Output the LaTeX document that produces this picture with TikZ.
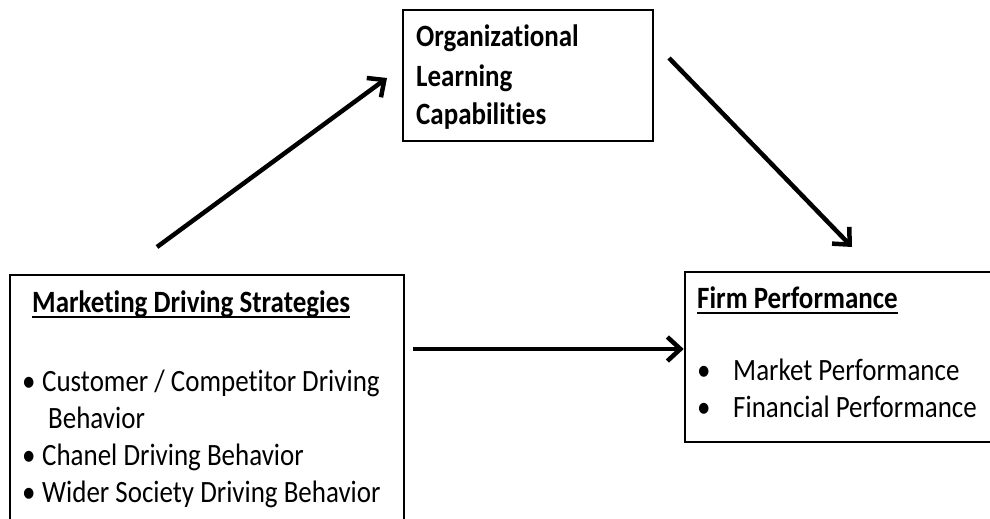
\documentclass[tikz,border=0pt]{standalone}
\usepackage{fontspec}
\setmainfont{Carlito}[Ligatures=NoCommon, FakeStretch=0.87]
\usetikzlibrary{arrows.meta}
\begin{document}
\begin{tikzpicture}[x=1pt,y=-1pt,
  box/.style={draw, line width=2.6pt, inner sep=0pt},
  txt/.style={anchor=base west, inner sep=0pt, font=\fontsize{31}{37}\selectfont},
  btxt/.style={txt, font=\fontsize{31}{37}\selectfont\bfseries},
  arr/.style={line width=4.5pt, -{Straight Barb[length=13pt,width=24pt]}},
  uline/.style={line width=1.8pt}]
\useasboundingbox (0,0) rectangle (990,519);
% boxes
\node[box, minimum width=250pt, minimum height=131pt] (org) at (528,75.5) {};
\node[box, minimum width=394pt, minimum height=270pt] (mkt) at (207,410) {};
\node[box, minimum width=330pt, minimum height=170pt] (firm) at (850,357) {};
% organizational text
\node[btxt] (o1) at (416,47) {Organizational};
\node[btxt] (o2) at (416,86) {Learning};
\node[btxt] (o3) at (416,124) {Capabilities};
% marketing text
\node[btxt] (mt) at (32,312) {Marketing Driving Strategies};
\draw[uline] ([yshift=-5pt]mt.base west) -- ([yshift=-5pt]mt.base east);
\node[txt] (mb1) at (22,391) {•};
\node[txt] (m1) at (42,391) {Customer / Competitor Driving};
\node[txt] (m1b) at (48,428) {Behavior};
\node[txt] (mb2) at (22,465) {•};
\node[txt] (m2) at (42,465) {Chanel Driving Behavior};
\node[txt] (mb3) at (22,502) {•};
\node[txt] (m3) at (42,502) {Wider Society Driving Behavior};
% firm text
\node[btxt] (ft) at (697,308) {Firm Performance};
\draw[uline] ([yshift=-5pt]ft.base west) -- ([yshift=-5pt]ft.base east);
\node[txt] (fb1) at (697,380) {•};
\node[txt] (f1) at (733,380) {Market Performance};
\node[txt] (fb2) at (697,417) {•};
\node[txt] (f2) at (733,417) {Financial Performance};
% arrows
\coordinate (a1s) at (157,247);
\coordinate (a1e) at (387,78);
\coordinate (a2s) at (669,58);
\coordinate (a2e) at (852,247);
\coordinate (a3s) at (413,349);
\draw[arr] (a1s) -- (a1e);
\draw[arr] (a2s) -- (a2e);
\draw[arr] (a3s) -- (a3s -| firm.west);
\end{tikzpicture}
\end{document}
